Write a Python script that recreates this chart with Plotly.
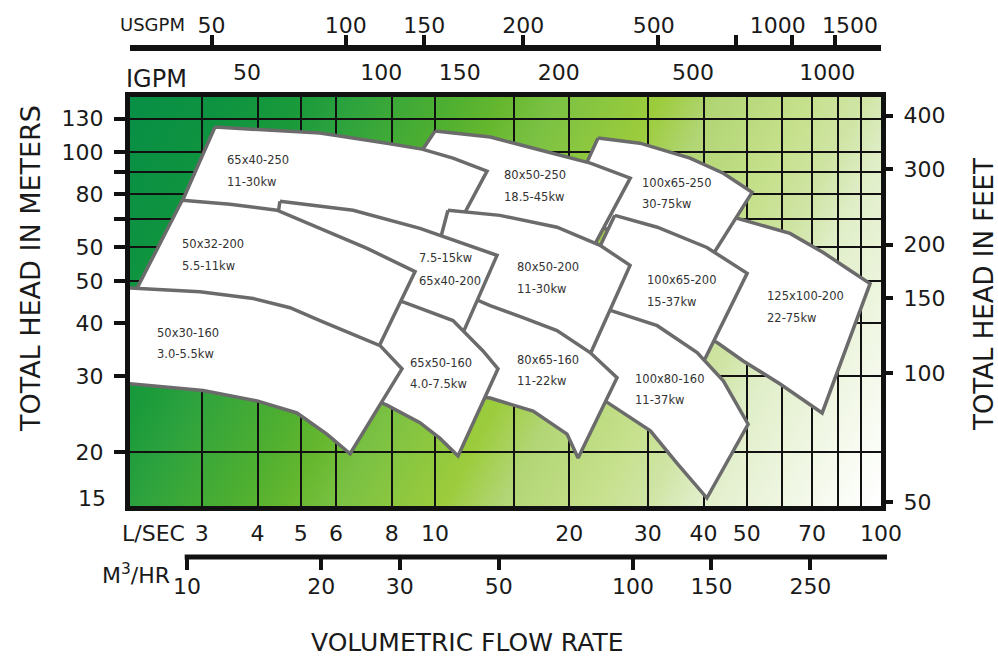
import base64
import numpy as np
import plotly.graph_objects as go

# ---------------- data ----------------
# axis extents: flow in L/s, head in metres
flow_range = [2.07, 100.0]
head_range = [14.95, 134.7]

# unit conversions (per L/s and per metre)
usgpm_per_ls = 15.85
igpm_per_ls = 13.2
m3hr_per_ls = 3.6
ft_per_m = 3.281

lsec_tickvals = [3, 4, 5, 6, 8, 10, 15, 20, 30, 40, 50, 60, 70, 80, 90, 100]
lsec_ticktext = ["3", "4", "5", "6", "8", "10", "", "20", "30", "40", "50", "", "70", "", "", "100"]
head_tickvals = [20, 30, 40, 50, 60, 70, 80, 90, 100, 120]
head_ticktext = ["20", "30", "40", "50", "50", "", "80", "", "100", "130"]
feet_tickvals = [50, 100, 150, 200, 300, 400]
usgpm_tickvals = [50, 100, 150, 250, 500, 750, 1000, 1250]
usgpm_labelvals = [50, 100, 150, 250, 490, 930, 1350]
usgpm_labeltext = ["50", "100", "150", "200", "500", "1000", "1500"]
igpm_tickvals = [50, 100, 150, 250, 500, 1000]
igpm_ticktext = ["50", "100", "150", "200", "500", "1000"]
m3hr_tickvals = [10, 20, 30, 50, 100, 150, 250]

# pump coverage regions (outline vertices: flow L/s, head m), back to front
flow_125x100_200 = [39.3, 47.6, 62.5, 74.2, 85.3, 94.5, 73.8, 59.4, 49.1, 42.9, 37.3]
head_125x100_200 = [73.3, 70.2, 64.7, 58.4, 53.0, 49.4, 24.65, 28.8, 32.6, 36.0, 38.4]
flow_100x65_250 = [23.2, 28.8, 37.3, 44.3, 51.4, 42.0, 35.4, 28.8, 23.4, 19.1]
head_100x65_250 = [108.0, 105.1, 97.0, 89.4, 80.7, 57.8, 60.7, 65.1, 66.5, 69.4]
flow_100x65_200 = [25.3, 31.5, 40.7, 50.1, 38.9, 32.0, 26.0, 19.6]
head_100x65_200 = [71.3, 66.9, 60.0, 52.2, 30.6, 35.4, 38.4, 40.9]
flow_100x80_160 = [24.05, 31.5, 38.7, 44.3, 50.35, 40.7, 34.9, 30.4, 24.05, 20.1]
head_100x80_160 = [43.2, 39.4, 34.1, 29.3, 23.2, 15.6, 18.8, 22.4, 26.3, 26.3]
flow_80x50_250 = [10.0, 13.3, 17.2, 22.3, 27.4, 21.7, 17.2, 13.3, 10.8, 7.93]
head_80x50_250 = [112.2, 108.6, 101.3, 94.4, 87.1, 55.35, 61.7, 66.5, 69.4, 78.2]
flow_65x40_250 = [3.21, 4.16, 5.52, 7.80, 9.35, 10.97, 13.08, 11.26, 10.26, 8.35, 6.45, 4.73, 3.47, 2.68]
head_65x40_250 = [114.6, 112.8, 111.0, 105.1, 101.8, 97.0, 90.4, 67.6, 60.3, 62.3, 66.5, 70.2, 71.7, 74.9]
flow_80x50_200 = [10.69, 13.98, 18.77, 23.44, 27.37, 21.7, 17.19, 13.98, 11.37, 10.05]
head_80x50_200 = [73.3, 71.3, 66.9, 60.7, 54.5, 31.8, 34.8, 38.4, 38.4, 57.5]
flow_80x65_160 = [11.37, 13.29, 15.75, 18.77, 22.27, 25.59, 20.93, 19.77, 16.59, 13.29, 11.86]
head_80x65_160 = [47.1, 43.9, 41.15, 38.4, 34.1, 29.8, 19.34, 22.0, 24.9, 26.7, 27.0]
flow_65x40_200 = [4.49, 6.55, 9.25, 13.77, 11.09, 8.79, 7.72, 5.81, 4.38]
head_65x40_200 = [76.9, 73.3, 66.5, 57.5, 34.4, 40.5, 45.1, 56.0, 65.1]
flow_65x50_160 = [8.01, 8.56, 10.97, 12.81, 13.84, 11.26, 10.26, 9.25, 7.80, 7.22, 7.07]
head_65x50_160 = [45.6, 44.6, 40.5, 34.4, 31.25, 19.55, 21.5, 23.4, 25.7, 26.6, 34.4]
flow_50x32_200 = [2.71, 3.47, 4.42, 5.52, 7.04, 9.02, 7.22, 5.52, 3.85, 2.68, 1.97]
head_50x32_200 = [77.3, 75.7, 73.3, 66.5, 59.7, 52.7, 32.6, 36.7, 41.6, 43.9, 40.5]
flow_50x30_160 = [1.97, 2.97, 3.91, 4.73, 5.52, 7.53, 8.43, 6.45, 5.72, 4.90, 3.99, 3.02, 1.97]
head_50x30_160 = [48.4, 47.3, 45.6, 43.4, 40.5, 35.4, 31.25, 19.8, 22.0, 24.65, 26.3, 27.8, 29.0]

pump_models = ["125x100-200", "100x65-250", "100x65-200", "100x80-160",
               "80x50-250", "65x40-250", "80x50-200", "80x65-160",
               "65x40-200", "65x50-160", "50x32-200", "50x30-160"]
pump_power = ["22-75kw", "30-75kw", "15-37kw", "11-37kw",
              "18.5-45kw", "11-30kw", "11-30kw", "11-22kw",
              "7.5-15kw", "4.0-7.5kw", "5.5-11kw", "3.0-5.5kw"]
power_on_top = [False, False, False, False, False, False, False, False,
                True, False, False, False]
label_flow = [54.96, 28.83, 29.58, 27.80, 14.13, 3.379, 15.11, 15.11, 9.111, 8.698, 2.679, 2.353]
label_head_top = [46.34, 84.76, 50.50, 29.61, 88.48, 95.94, 53.88, 32.81, 56.56, 32.28, 60.99, 37.95]
label_head_bottom = [41.15, 75.68, 44.86, 26.44, 78.59, 85.21, 48.11, 29.29, 50.23, 28.83, 54.17, 33.88]

pump_flows = [flow_125x100_200, flow_100x65_250, flow_100x65_200, flow_100x80_160,
              flow_80x50_250, flow_65x40_250, flow_80x50_200, flow_80x65_160,
              flow_65x40_200, flow_65x50_160, flow_50x32_200, flow_50x30_160]
pump_heads = [head_125x100_200, head_100x65_250, head_100x65_200, head_100x80_160,
              head_80x50_250, head_65x40_250, head_80x50_200, head_80x65_160,
              head_65x40_200, head_65x50_160, head_50x32_200, head_50x30_160]

# ---------------- layout geometry ----------------
W, H = 998, 664
m_l, m_r, m_t, m_b = 130, 108, 20, 69
pw = W - m_l - m_r
ph = H - m_t - m_b
plot_right_px, plot_top_px, plot_bottom_px = 881, 97, 506
x_dom = [0.0, (plot_right_px - m_l) / pw]
y_dom = [(H - m_b - plot_bottom_px) / ph, (H - m_b - plot_top_px) / ph]


def ypaper(py):
    return (H - m_b - py) / ph


def xpaper(px):
    return (px - m_l) / pw


lx = np.log10(flow_range)
ly = np.log10(head_range)

FONT = "DejaVu Sans, Verdana, sans-serif"
INK = "#1a1a1a"

# ---------------- background gradient ----------------
stops = [(0.00, "#078f45"), (0.10, "#0e9340"), (0.18, "#1a9a3a"), (0.23, "#2ca23e"),
         (0.34, "#50b030"), (0.39, "#66b72e"), (0.44, "#7ac143"), (0.55, "#9ccc3c"),
         (0.61, "#b2d575"), (0.70, "#c5e08a"), (0.76, "#cfe4a4"), (0.81, "#e0eec8"),
         (0.95, "#f8fbf2"), (1.00, "#ffffff")]
stop_svg = "".join('<stop offset="%.2f" stop-color="%s"/>' % s for s in stops)
svg = ('<svg xmlns="http://www.w3.org/2000/svg" width="751" height="409" '
       'viewBox="0 0 751 409" preserveAspectRatio="none"><defs>'
       '<linearGradient id="g" gradientUnits="userSpaceOnUse" x1="0" y1="0" x2="751" y2="401">'
       + stop_svg + '</linearGradient></defs>'
       '<rect x="0" y="0" width="751" height="409" fill="url(#g)"/></svg>')
svg_src = "data:image/svg+xml;base64," + base64.b64encode(svg.encode()).decode()

fig = go.Figure()

for fl, hd in zip(pump_flows, pump_heads):
    fig.add_trace(go.Scatter(
        x=fl + [fl[0]], y=hd + [hd[0]], mode="lines", fill="toself",
        fillcolor="white", line=dict(color="#6b6b6b", width=3.5),
        hoverinfo="skip", showlegend=False))

# invisible anchors so the secondary scales are drawn
for ax_id, xv in (("x2", usgpm_tickvals[1]), ("x3", igpm_tickvals[1]), ("x4", m3hr_tickvals[1]),
                  ("x5", usgpm_tickvals[1]), ("x6", m3hr_tickvals[1])):
    fig.add_trace(go.Scatter(x=[xv], y=[head_tickvals[1]], xaxis=ax_id, yaxis="y",
                             mode="markers", marker=dict(opacity=0), hoverinfo="skip",
                             showlegend=False))
fig.add_trace(go.Scatter(x=[lsec_tickvals[1]], y=[feet_tickvals[1]], xaxis="x", yaxis="y2",
                         mode="markers", marker=dict(opacity=0), hoverinfo="skip", showlegend=False))

annotations = []
for i in range(len(pump_models)):
    t1, t2 = (pump_power[i], pump_models[i]) if power_on_top[i] else (pump_models[i], pump_power[i])
    for txt, hv in ((t1, label_head_top[i]), (t2, label_head_bottom[i])):
        annotations.append(dict(x=np.log10(label_flow[i]), y=np.log10(hv), xref="x", yref="y",
                                text=txt, showarrow=False, xanchor="left", yanchor="middle",
                                font=dict(family=FONT, size=11.5, color="#333333")))


def paper_text(px, py, text, size, angle=0, xanchor="center"):
    return dict(x=xpaper(px), y=ypaper(py), xref="paper", yref="paper", text=text,
                textangle=angle, showarrow=False, xanchor=xanchor, yanchor="middle",
                font=dict(family=FONT, size=size, color=INK))


annotations += [
    paper_text(30, 269, "TOTAL HEAD IN METERS", 27, -90),
    paper_text(984, 295, "TOTAL HEAD IN FEET", 26, -90),
    paper_text(467, 642, "VOLUMETRIC FLOW RATE", 25),
    paper_text(152, 25, "USGPM", 18),
    paper_text(156, 79, "IGPM", 24),
    paper_text(153, 533, "L/SEC", 22),
    paper_text(136, 574, "M<sup>3</sup>/HR", 22),
    dict(x=xpaper(108), y=np.log10(15.58), xref="paper", yref="y", text="15", xanchor="right",
         yanchor="middle", showarrow=False, font=dict(family=FONT, size=22, color=INK)),
]

# M3/HR scale baseline, starting at the 10 m3/h tick
lm3 = lx + np.log10(m3hr_per_ls)
m3_start = x_dom[1] * (np.log10(m3hr_tickvals[0]) - lm3[0]) / (lm3[1] - lm3[0])
shapes = [dict(type="line", xref="paper", yref="paper", x0=m3_start - 0.003, x1=xpaper(887),
               y0=ypaper(557), y1=ypaper(557), line=dict(color="#111", width=5))]

tick_font = dict(family=FONT, size=22, color=INK)
common = dict(automargin=False, tickangle=0, zeroline=False)
top_common = dict(overlaying="x", anchor="free", showgrid=False, tickmode="array", **common)

fig.update_layout(
    template="none",
    width=W, height=H, margin=dict(l=m_l, r=m_r, t=m_t, b=m_b, autoexpand=False),
    paper_bgcolor="white", plot_bgcolor="rgba(0,0,0,0)",
    showlegend=False, annotations=annotations, shapes=shapes,
    images=[dict(source=svg_src, xref="paper", yref="paper", x=0, y=y_dom[1],
                 sizex=x_dom[1], sizey=y_dom[1] - y_dom[0], xanchor="left", yanchor="top",
                 sizing="stretch", layer="below")],
    xaxis=dict(type="log", range=list(lx), domain=x_dom, anchor="y",
               showline=True, linewidth=5, linecolor="#111", mirror=True,
               showgrid=True, gridcolor="#111", gridwidth=2,
               tickmode="array", tickvals=lsec_tickvals, ticktext=lsec_ticktext,
               ticks="", tickfont=tick_font, ticklabelstandoff=4, **common),
    yaxis=dict(type="log", range=list(ly), domain=y_dom, anchor="x",
               showline=True, linewidth=5, linecolor="#111", mirror=True,
               showgrid=True, gridcolor="#111", gridwidth=2,
               tickmode="array", tickvals=head_tickvals, ticktext=head_ticktext,
               ticks="outside", ticklen=11, tickwidth=4, tickcolor="#111",
               tickfont=tick_font, ticklabelstandoff=6, **common),
    yaxis2=dict(type="log", range=list(ly + np.log10(ft_per_m)), overlaying="y", side="right",
                anchor="x", showline=False, showgrid=False,
                tickmode="array", tickvals=feet_tickvals,
                ticks="outside", ticklen=11, tickwidth=4, tickcolor="#111",
                tickfont=tick_font, ticklabelstandoff=6, **common),
    # USGPM scale: line + ticks, and its labels
    xaxis2=dict(type="log", range=list(lx + np.log10(usgpm_per_ls)), side="top",
                position=ypaper(48), showline=True, linewidth=6, linecolor="#111",
                tickvals=usgpm_tickvals, showticklabels=False,
                ticks="outside", ticklen=10, tickwidth=4, tickcolor="#111", **top_common),
    xaxis5=dict(type="log", range=list(lx + np.log10(usgpm_per_ls)), side="top",
                position=ypaper(37), showline=False, tickvals=usgpm_labelvals,
                ticktext=usgpm_labeltext, ticks="", tickfont=tick_font,
                ticklabelstandoff=0, **top_common),
    # IGPM labels
    xaxis3=dict(type="log", range=list(lx + np.log10(igpm_per_ls)), side="top",
                position=ypaper(86), showline=False, tickvals=igpm_tickvals,
                ticktext=igpm_ticktext, ticks="", tickfont=tick_font,
                ticklabelstandoff=2, **top_common),
    # M3/HR scale: ticks, and its labels
    xaxis4=dict(type="log", range=list(lm3), side="bottom",
                position=ypaper(557), showline=False, tickvals=m3hr_tickvals,
                showticklabels=False, ticks="outside", ticklen=12, tickwidth=4,
                tickcolor="#111", **top_common),
    xaxis6=dict(type="log", range=list(lm3), side="bottom",
                position=ypaper(571), showline=False, tickvals=m3hr_tickvals,
                ticks="", tickfont=tick_font, ticklabelstandoff=0, **top_common),
)

fig.write_html("out.html", config={"displayModeBar": False},
               post_script="document.body.style.margin='0px';")
